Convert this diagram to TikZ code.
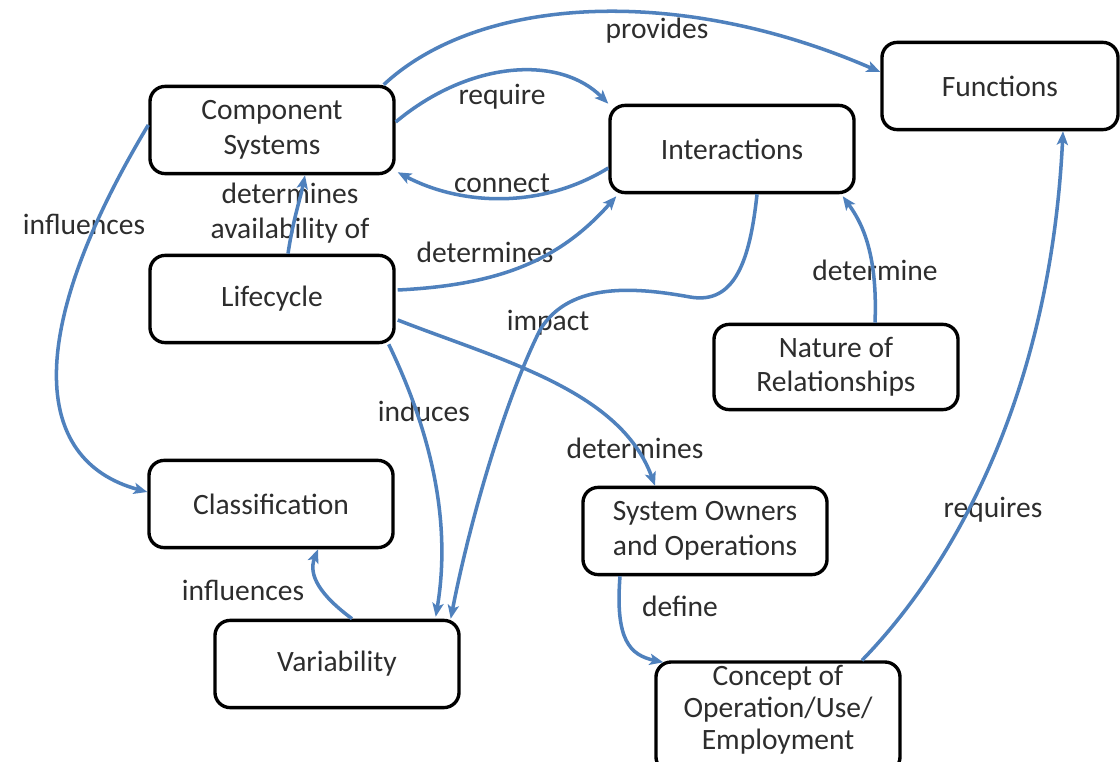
\documentclass[tikz,border=0pt]{standalone}
\usepackage{fontspec}
\setmainfont{Carlito}
\usetikzlibrary{arrows.meta,calc}
\definecolor{linkblue}{RGB}{79,129,189}
\definecolor{ink}{RGB}{45,45,45}
\begin{document}
\begin{tikzpicture}[x=0.025cm,y=-0.025cm,
  box/.style={draw=black, line width=2.4pt, rounded corners=0.38cm, fill=white,
    minimum width=6.1cm, minimum height=2.18cm, align=center, text=ink,
    font=\fontsize{21}{24.5}\selectfont, inner sep=2pt},
  lbl/.style={text=ink, font=\fontsize{21}{24.5}\selectfont, align=center, inner sep=1pt},
  link/.style={draw=linkblue, line width=2.5pt,
    -{Stealth[length=0.34cm,width=0.28cm,inset=0.08cm]}}]
  \clip (0,0) rectangle (1120,762);
  \fill[white] (0,0) rectangle (1120,762);

  % concept boxes
  \node[box] (cs)   at (272,130) {Component\\Systems};
  \node[box] (int)  at (732,149) {Interactions};
  \node[box, minimum width=5.9cm] (fun) at (1000,86) {Functions};
  \node[box] (life) at (272,299) {Lifecycle};
  \node[box, minimum height=2.13cm] (nat) at (836,367) {Nature of\\Relationships};
  \node[box] (cls)  at (271,504) {Classification};
  \node[box] (sys)  at (705,531) {System Owners\\and Operations};
  \node[box] (var)  at (337,664) {Variability};
  % the last box runs off the bottom edge; its text sits a little high
  \node[box, minimum height=2.75cm] (con) at (778,717) {};
  \node[lbl, font=\fontsize{21}{22.8}\selectfont] (contxt) at (778,710)
     {Concept of\\Operation/Use/\\Employment};

  % relationship labels
  \node[lbl] (lprov)  at (657,31)  {provides};
  \node[lbl] (lreq)   at (502,97)  {require};
  \node[lbl] (lconn)  at (502,183) {connect};
  \node[lbl] (lavail) at (290,213) {determines\\availability of};
  \node[lbl] (linfl)  at (84,224)  {influences};
  \node[lbl] (ldet1)  at (485,252) {determines};
  \node[lbl] (limp)   at (548,323) {impact};
  \node[lbl] (ldet2)  at (875,270) {determine};
  \node[lbl] (lind)   at (424,411) {induces};
  \node[lbl] (ldet3)  at (635,448) {determines};
  \node[lbl] (lreqs)  at (993,510) {requires};
  \node[lbl] (linf2)  at (243,590) {influences};
  \node[lbl] (ldef)   at (680,606) {define};

  % relationships
  \draw[link] ($(cs.north east)+(-12,0)$) .. controls (480,-5) and (680,-15) .. ($(fun.west)+(0,-14)$);
  \draw[link] ($(cs.east)+(0,-8)$) .. controls (470,60) and (560,55) .. ($(int.north west)+(0,0)$);
  \draw[link] ($(int.west)+(0,19)$) .. controls (540,210) and (460,205) .. ($(cs.south east)+(2,-3)$);
  \draw[link] ($(life.north)+(16,0)$) .. controls (293,220) and (300,200) .. ($(cs.south)+(33,0)$);
  \draw[link] ($(cs.west)+(0,-5)$) .. controls (25,330) and (30,460) .. ($(cls.west)+(0,-12)$);
  \draw[link] ($(life.east)+(2,-9)$) .. controls (500,285) and (560,260) .. ($(int.south west)+(8,2)$);
  \draw[link] ($(int.south)+(25,0)$) .. controls (750,260) and (735,305) .. (690,297)
     .. controls (640,288) and (570,280) .. (540,330)
     .. controls (505,400) and (470,520) .. ($(var.north east)+(-10,0)$);
  \draw[link] ($(life.south east)+(-7,0)$) .. controls (430,430) and (452,520) .. ($(var.north east)+(-25,-2)$);
  \draw[link] ($(life.east)+(2,21)$) .. controls (500,360) and (620,390) .. ($(sys.north)+(-50,0)$);
  \draw[link] ($(nat.north)+(39,0)$) .. controls (878,250) and (860,220) .. ($(int.south east)+(-13,2)$);
  \draw[link] ($(var.north)+(15,0)$) .. controls (320,595) and (308,575) .. ($(cls.south)+(47,0)$);
  \draw[link] ($(sys.south)+(-85,0)$) .. controls (615,640) and (630,655) .. ($(con.north west)+(9,2)$);
  \draw[link] ($(con.north)+(84,0)$) .. controls (950,570) and (1050,400) .. ($(fun.south)+(63,0)$);
\end{tikzpicture}
\end{document}
